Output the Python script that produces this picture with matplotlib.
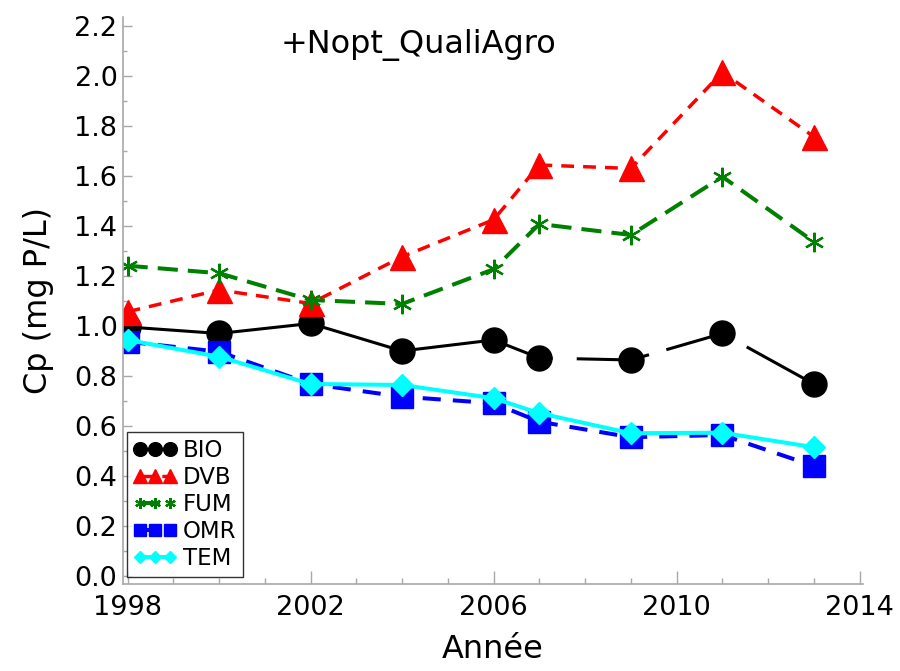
import matplotlib
matplotlib.use("Agg")
import matplotlib.pyplot as plt
from matplotlib.ticker import FixedLocator, MultipleLocator, FormatStrFormatter

years = [1998, 2000, 2002, 2004, 2006, 2007, 2009, 2011, 2013]
bio = [0.996, 0.97, 1.01, 0.90, 0.944, 0.872, 0.864, 0.97, 0.768]
dvb = [1.057, 1.144, 1.09, 1.277, 1.425, 1.644, 1.63, 2.015, 1.757]
fum = [1.241, 1.211, 1.104, 1.088, 1.227, 1.408, 1.364, 1.597, 1.337]
omr = [0.937, 0.897, 0.768, 0.717, 0.691, 0.617, 0.555, 0.564, 0.44]
tem = [0.944, 0.877, 0.768, 0.764, 0.711, 0.651, 0.571, 0.573, 0.515]
xticks = [1998, 2002, 2006, 2010, 2014]

fig = plt.figure(figsize=(9, 6.71), dpi=100)
ax = fig.add_axes([0.1367, 0.1297, 0.822, 0.845])

# long dashes on the black line, gaps only in the later part like the original
ax.plot(years, bio, color="black", lw=2.2,
        dashes=(142, 7.9, 23.9, 5.9, 22.3, 5.9, 100, 1),
        marker="o", ms=18, label="BIO")
ax.plot(years, dvb, color="red", lw=2.5, dashes=(3.7, 2.6), marker="^", ms=18,
        label="DVB")
ax.plot(years, fum, color="green", lw=2.9, dashes=(5, 2.5), marker=(6, 2, 0), ms=14,
        mew=1.6, label="FUM")
ax.plot(years, omr, color="blue", lw=2.9, dashes=(4.5, 3), marker="s", ms=16,
        label="OMR")
ax.plot(years, tem, color="cyan", lw=2.9, marker="D", ms=11.5, label="TEM")

ax.set_xlim(1997.9, 2014.07)
ax.set_ylim(-0.032, 2.236)
ax.xaxis.set_major_locator(FixedLocator(xticks))
ax.xaxis.set_minor_locator(MultipleLocator(1))
ax.yaxis.set_major_locator(MultipleLocator(0.2))
ax.yaxis.set_minor_locator(MultipleLocator(0.1))
ax.yaxis.set_major_formatter(FormatStrFormatter("%.1f"))

for s in ["top", "right"]:
    ax.spines[s].set_visible(False)
for s in ["left", "bottom"]:
    ax.spines[s].set_color("#a8a8a8")
    ax.spines[s].set_linewidth(1.2)

ax.tick_params(axis="both", which="both", direction="in", color="#a8a8a8",
               labelsize=19.5, width=1)
ax.tick_params(axis="x", which="major", length=9.4, pad=8)
ax.tick_params(axis="x", which="minor", length=4.3)
ax.tick_params(axis="y", which="major", length=6.5, pad=4)
ax.tick_params(axis="y", which="minor", length=2.9)

ax.set_xlabel("Année", fontsize=23, labelpad=9)
ax.set_ylabel("Cp (mg P/L)", fontsize=23, labelpad=15)

ax.text(0.4, 0.95, "+Nopt_QualiAgro", transform=ax.transAxes, fontsize=23,
        ha="center", va="center")

leg = ax.legend(loc="lower left", bbox_to_anchor=(0.005, 0.012), fontsize=16.5,
                numpoints=3, markerscale=0.55, frameon=True, fancybox=False,
                edgecolor="black", borderaxespad=0, labelspacing=0.18,
                handlelength=1.9, handletextpad=0.25, borderpad=0.3)
leg.get_frame().set_linewidth(1.0)

fig.savefig("out.png", dpi=100)
